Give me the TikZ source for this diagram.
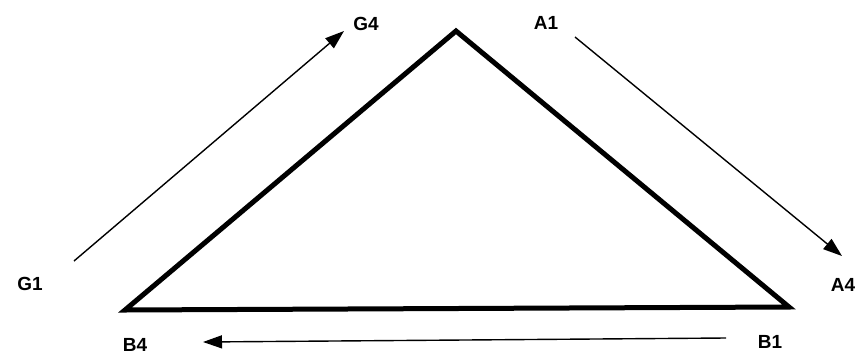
\documentclass[tikz,border=0pt]{standalone}
\usepackage{fontspec}
\setmainfont{Liberation Sans}
\usetikzlibrary{arrows.meta}
\begin{document}
\begin{tikzpicture}[x=1pt,y=-1pt,
  lbl/.style={font=\fontsize{19}{19}\selectfont\bfseries, inner sep=0pt},
  flow/.style={line width=1.4pt, -{Triangle[length=19pt,width=13pt]}},
  tri/.style={line width=5pt, line join=miter}]
\useasboundingbox (0,0) rectangle (859,354);
% triangle
\coordinate (T) at (456,31);
\coordinate (L) at (125,310);
\coordinate (R) at (789,307);
\draw[tri] (T) -- (R) -- (L) -- cycle;
% labels
\node[lbl] (g4) at (366,24) {G4};
\node[lbl] (g1) at (30,284) {G1};
\node[lbl] (a1) at (546,23) {A1};
\node[lbl] (a4) at (843,285) {A4};
\node[lbl] (b4) at (135,345) {B4};
\node[lbl] (b1) at (770,342) {B1};
% arrow end points
\coordinate (gs) at (74,261);
\coordinate (ge) at (344,31);
\coordinate (as) at (575,37);
\coordinate (ae) at (842,256);
\coordinate (bs) at (726,338);
\coordinate (be) at (203,342);
\draw[flow] (gs) -- (ge);
\draw[flow] (as) -- (ae);
\draw[flow] (bs) -- (be);
\end{tikzpicture}
\end{document}
